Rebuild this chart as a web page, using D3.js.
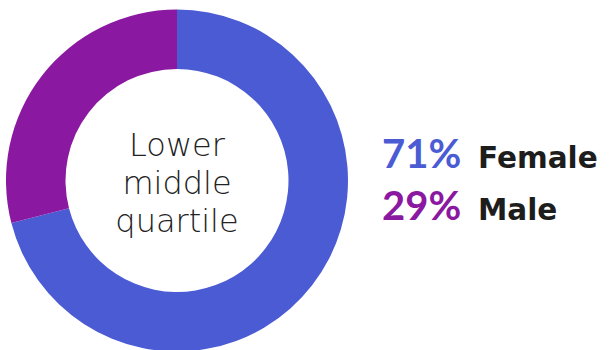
<!DOCTYPE html>
<html lang="en">
<head>
    <meta charset="UTF-8">
    <title>quartile donut</title>
    <script src="https://cdn.jsdelivr.net/npm/d3@7"></script>
</head>
<style>
    body { margin: 0; background: #fff; }
    .centre { font-family: "DejaVu Sans", sans-serif; font-weight: 200; font-size: 32px; fill: #222; text-anchor: middle; }
    .pct { font-family: Lato, sans-serif; font-weight: 700; font-size: 40px; }
    .lab { font-family: "DejaVu Sans", sans-serif; font-weight: 700; font-size: 29.5px; fill: #1d1d1d; }
</style>
<body>
<svg class="chart"></svg>
<script>
    // data
    var categories = ["Female", "Male"]
    var values = [71, 29]
    var colors = ["#4a5bd4", "#8a18a0"]
    var centreLines = ["Lower", "middle", "quartile"]

    var svg = d3.select('.chart').attr('width', 612).attr('height', 350)

    // donut
    var cx = 177, cy = 180.5
    var pie = d3.pie().sort(null).value(function (d) { return d })
    var arc = d3.arc().innerRadius(111.5).outerRadius(171)

    var g = svg.append('g').attr('transform', 'translate(' + cx + ',' + cy + ')')
    g.selectAll('path')
        .data(pie(values))
        .enter()
        .append('path')
        .attr('d', arc)
        .attr('fill', function (d, i) { return colors[i] })

    // centre label
    g.selectAll('.centre')
        .data(centreLines)
        .enter()
        .append('text')
        .attr('class', 'centre')
        .attr('x', 0)
        .attr('y', function (d, i) { return -25 + i * 38 })
        .text(function (d) { return d })

    // legend
    var legend = svg.selectAll('.leg')
        .data(categories)
        .enter()
        .append('g')
        .attr('class', 'leg')
        .attr('transform', function (d, i) { return 'translate(382,' + (168 + i * 52) + ')' })

    legend.append('text')
        .attr('class', 'pct')
        .attr('fill', function (d, i) { return colors[i] })
        .text(function (d, i) { return values[i] + '%' })

    legend.append('text')
        .attr('class', 'lab')
        .attr('x', 96)
        .text(function (d) { return d })
</script>
</body>
</html>
